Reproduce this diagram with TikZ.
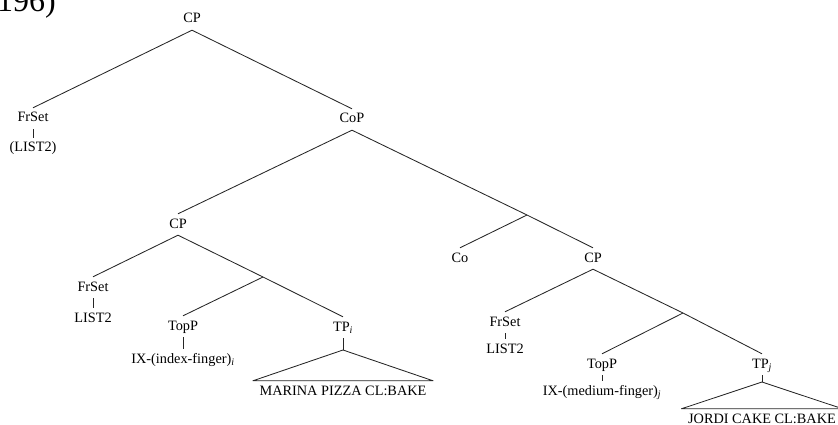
\documentclass[tikz,border=0pt]{standalone}
\usepackage{fontspec}
\setmainfont{Liberation Serif}
\begin{document}
\begin{tikzpicture}[x=1pt,y=-1pt,
  lab/.style={anchor=base, font=\fontsize{14.3}{17}\selectfont, text height=10pt, text depth=3pt, inner xsep=1pt, inner ysep=4pt},
  tri/.style={lab, inner xsep=6.5pt},
  edge/.style={draw=black!85, line width=0.85pt, line join=round}]
\useasboundingbox (0,0) rectangle (838,425);
% partially visible example number
\node[anchor=base east, font=\fontsize{32}{36}\selectfont, inner sep=0pt] (num) at (56,12) {196)};
% nodes
\node[lab] (cp0) at (192,23) {CP};
\node[lab] (fr1) at (33,122) {FrSet};
\node[lab] (l1) at (33,152) {(LIST2)};
\node[lab] (cop) at (352,123) {CoP};
\coordinate (b1) at (527,215);
\node[lab] (cp1) at (178,228) {CP};
\node[lab] (co) at (460,262) {Co};
\node[lab] (cp2) at (593,262) {CP};
\node[lab] (fr2) at (93,291) {FrSet};
\node[lab] (l2) at (93,322) {LIST2};
\coordinate (b2) at (263,277);
\node[lab] (top1) at (183,330) {TopP};
\node[lab] (ix1) at (183,363) {IX-(index-finger)\textsubscript{\textit{i}}};
\node[lab] (tp1) at (343,331) {TP\textsubscript{\textit{i}}};
\coordinate (a1) at (343,350);
\node[tri] (s1) at (343,395) {MARINA PIZZA CL:BAKE};
\node[lab] (fr3) at (505,326) {FrSet};
\node[lab] (l3) at (505,353) {LIST2};
\coordinate (b3) at (683,313);
\node[lab] (top2) at (602,368) {TopP};
\node[lab] (ix2) at (602,395) {IX-(medium-finger)\textsubscript{\textit{j}}};
\node[lab] (tp2) at (762,368) {TP\textsubscript{\textit{j}}};
\coordinate (a2) at (762,382);
\node[tri] (s2) at (762,423) {JORDI CAKE CL:BAKE};
% edges
\draw[edge] (cp0.south) -- (fr1.north);
\draw[edge] (cp0.south) -- (cop.north);
\draw[edge] (fr1.south) -- (l1.north);
\draw[edge] (cop.south) -- (cp1.north);
\draw[edge] (cop.south) -- (b1) -- (cp2.north);
\draw[edge] (b1) -- (co.north);
\draw[edge] (cp1.south) -- (fr2.north);
\draw[edge] (cp1.south) -- (b2) -- (tp1.north);
\draw[edge] (b2) -- (top1.north);
\draw[edge] (fr2.south) -- (l2.north);
\draw[edge] (top1.south) -- (ix1.north);
\draw[edge] (tp1.south) -- (a1);
\draw[edge] (a1) -- (s1.north west) -- (s1.north east) -- cycle;
\draw[edge] (cp2.south) -- (fr3.north);
\draw[edge] (cp2.south) -- (b3) -- (tp2.north);
\draw[edge] (b3) -- (top2.north);
\draw[edge] (fr3.south) -- (l3.north);
\draw[edge] (top2.south) -- (ix2.north);
\draw[edge] (tp2.south) -- (a2);
\draw[edge] (a2) -- (s2.north west) -- (s2.north east) -- cycle;
\end{tikzpicture}
\end{document}
